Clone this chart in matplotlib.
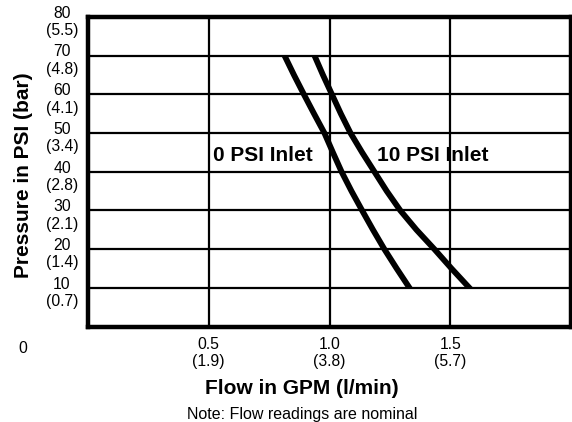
import matplotlib.pyplot as plt
import matplotlib.transforms as mtransforms
from matplotlib.patches import Rectangle

plt.rcParams['font.family'] = ['Liberation Sans', 'DejaVu Sans']

### curve data (flow in GPM vs pressure in PSI)
psi = [70, 65, 60, 55, 50, 45, 40, 35, 30, 25, 20, 15, 10]
flow_0psi = [0.814, 0.853, 0.894, 0.936, 0.979, 1.014, 1.050, 1.091, 1.135, 1.180, 1.227, 1.278, 1.331]
flow_10psi = [0.938, 0.973, 1.010, 1.047, 1.087, 1.135, 1.186, 1.237, 1.293, 1.360, 1.434, 1.505, 1.579]

yticks = [10, 20, 30, 40, 50, 60, 70, 80]
ylabels = ['10\n(0.7)', '20\n(1.4)', '30\n(2.1)', '40\n(2.8)', '50\n(3.4)',
           '60\n(4.1)', '70\n(4.8)', '80\n(5.5)']
xticks = [0.5, 1.0, 1.5]
xlabels = ['0.5\n(1.9)', '1.0\n(3.8)', '1.5\n(5.7)']

fig = plt.figure(figsize=(5.72, 4.22), dpi=100)
ax = fig.add_axes([0.1538, 0.2263, 0.8445, 0.7334])

# curves end with flat horizontal cuts on the 10 and 70 psi lines
clip = Rectangle((0, 10), 2, 60, transform=ax.transData)
for fl in (flow_0psi, flow_10psi):
  ln, = ax.plot(fl, psi, 'k', lw=4.2, solid_capstyle='projecting', solid_joinstyle='round', zorder=3)
  ln.set_clip_path(clip)

ax.set_xlim(0, 2.0)
ax.set_ylim(0, 80)
ax.set_yticks(yticks)
ax.set_yticklabels(ylabels, ha='center', multialignment='center', va='center', fontsize=11.3)
ax.set_xticks(xticks)
ax.set_xticklabels(xlabels, multialignment='center', fontsize=11.3)
ax.tick_params(axis='y', length=0, pad=18.7)
ax.tick_params(axis='x', length=0, pad=7.5)
# shift y labels slightly down like the original
off = mtransforms.ScaledTranslation(0, -5 / 100, fig.dpi_scale_trans)
for lab in ax.get_yticklabels():
  lab.set_transform(lab.get_transform() + off)

ax.grid(True, color='k', lw=1.6)
ax.set_axisbelow(True)
for s in ax.spines.values():
  s.set_linewidth(3.2)

ax.text(-0.134, -0.07, '0', transform=ax.transAxes, ha='center', va='center', fontsize=11.3)

ax.set_ylabel('Pressure in PSI (bar)', fontsize=15, fontweight='bold')
ax.yaxis.set_label_coords(-0.114, 0.49)
ax.set_xlabel('Flow in GPM (l/min)', fontsize=15, fontweight='bold')
ax.xaxis.set_label_coords(0.443, -0.17)

ax.text(0.518, 44.3, '0 PSI Inlet', ha='left', va='center', fontsize=15, fontweight='bold')
ax.text(1.197, 44.3, '10 PSI Inlet', ha='left', va='center', fontsize=15, fontweight='bold')

fig.text(0.528, 1 - 414 / 422, 'Note: Flow readings are nominal', ha='center', va='center', fontsize=11.5)

fig.savefig('out.png', dpi=100)
